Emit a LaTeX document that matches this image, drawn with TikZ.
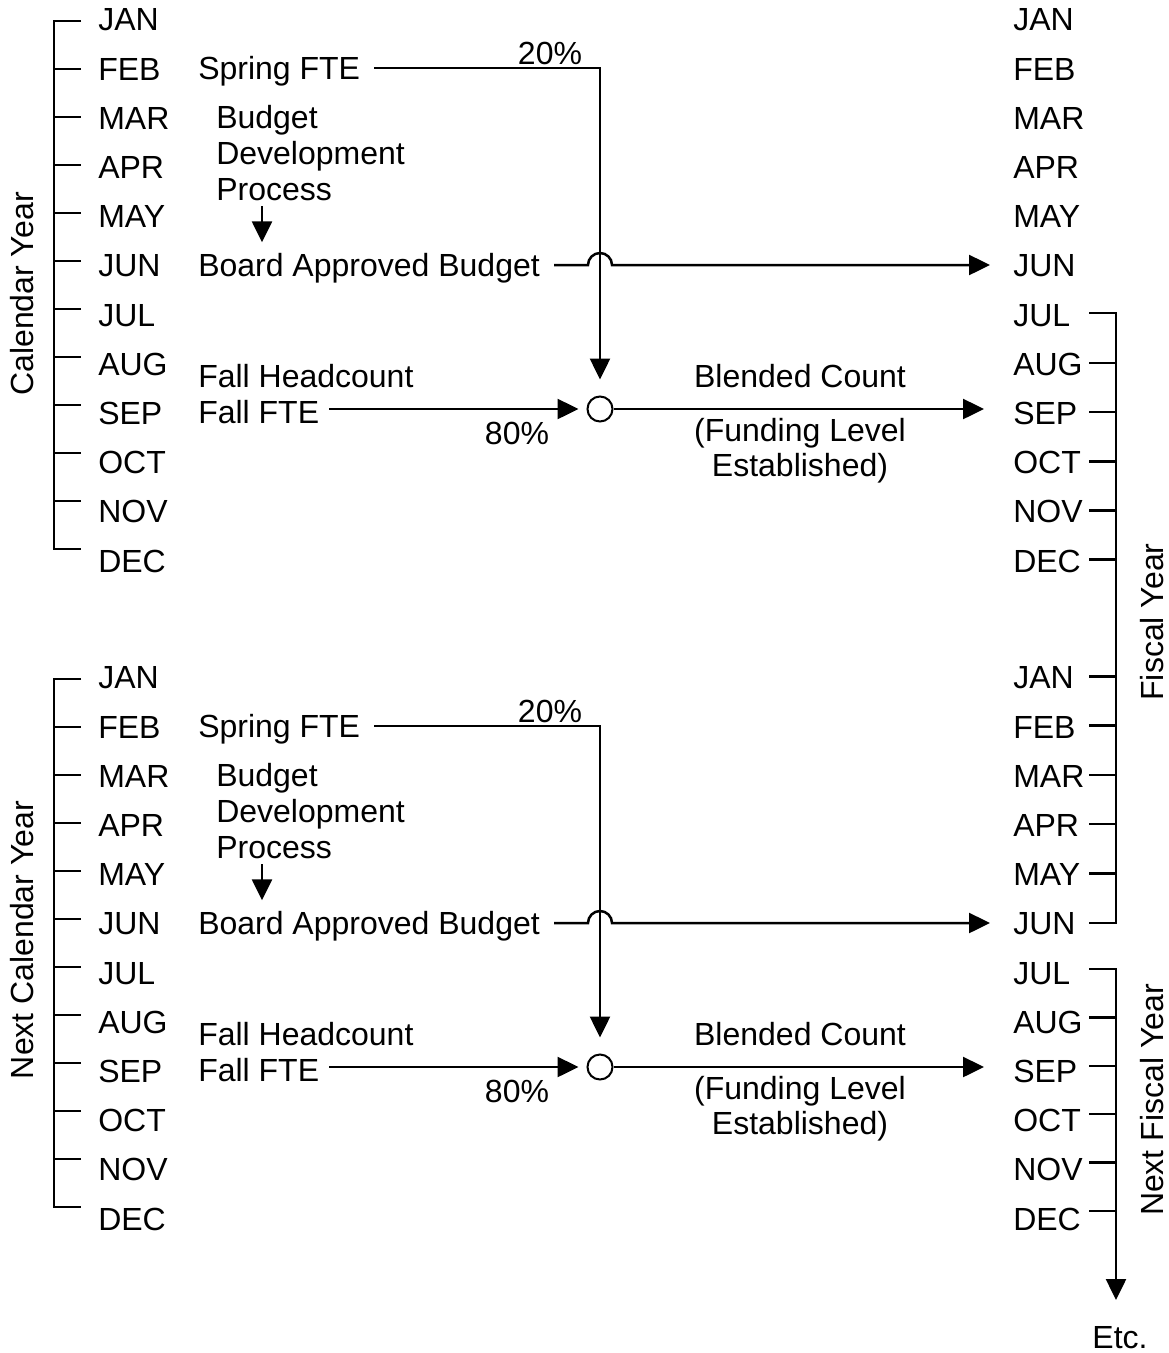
\documentclass[tikz,border=0pt]{standalone}
\usepackage{fontspec}
\setmainfont{Liberation Sans}
\usetikzlibrary{arrows.meta}
\begin{document}
\begin{tikzpicture}[x=1pt,y=-1pt, line width=2.5pt,
  txt/.style={font=\fontsize{32}{38}\selectfont, inner sep=0pt, text height=22.9pt, text depth=0pt},
  lt/.style={txt, anchor=west},
  arr/.style={-{Triangle[length=21pt,width=20pt]}},
  circnode/.style={draw, circle, minimum size=25pt, inner sep=0pt, line width=2pt}]
\useasboundingbox (0,0) rectangle (1169,1353);

% month labels
\foreach \s/\o in {1/0, 2/658} {
  \foreach \m [count=\i from 0] in {JAN,FEB,MAR,APR,MAY,JUN,JUL,AUG,SEP,OCT,NOV,DEC} {
    \node[lt] (L\s\m) at (97, {19.5+49.2*\i+\o}) {\m};
    \node[lt] (R\s\m) at (1012, {19.5+49.2*\i+\o}) {\m};
  }
}

% left calendar brackets
\foreach \o in {0, 658} {
  \draw (81,21+\o) -- (54,21+\o) -- (54,549+\o) -- (81,549+\o);
  \foreach \k in {1,...,10} \draw (54,{21+48*\k+\o}) -- (81,{21+48*\k+\o});
}

% fiscal year bracket
\draw (1089,313) -- (1116,313) -- (1116,923) -- (1089,923);
\foreach \k in {7,...,11} \draw (1089,{18.5+49.2*\k}) -- (1116,{18.5+49.2*\k});
\foreach \k in {0,...,4} \draw (1089,{18.5+49.2*\k+658}) -- (1116,{18.5+49.2*\k+658});

% next fiscal year
\draw[arr] (1089,969) -- (1116,969) -- (1116,1300);
\foreach \k in {1,...,5} \draw (1089,{969+48.4*\k}) -- (1116,{969+48.4*\k});
\node[txt] (etc) at (1120,1337) {Etc.};

% side titles
\node[txt, rotate=90] (cy) at (22,294) {Calendar Year};
\node[txt, rotate=90] (ncy) at (22,940) {Next Calendar Year};
\node[txt, rotate=90] (fy) at (1152,622) {Fiscal Year};
\node[txt, rotate=90] (nfy) at (1152,1100) {Next Fiscal Year};

% the two process blocks
\foreach \s/\o in {1/0, 2/658} {
  \node[lt] (spring\s) at (197,68+\o) {Spring FTE};
  \node[lt] (bud\s) at (215,117+\o) {Budget};
  \node[lt] (dev\s) at (215,153+\o) {Development};
  \node[lt] (proc\s) at (215,189+\o) {Process};
  \node[lt] (board\s) at (197,265+\o) {Board Approved Budget};
  \node[lt] (fallhc\s) at (197,376+\o) {Fall Headcount};
  \node[lt] (fall\s) at (197,412+\o) {Fall FTE};
  \node[circnode] (circ\s) at (600,409+\o) {};
  \node[txt] (p20\s) at (550,53+\o) {20\%};
  \node[txt] (p80\s) at (517,433+\o) {80\%};
  \node[txt] (blend\s) at (800,376+\o) {Blended Count};
  \node[txt] (fund\s) at (800,430+\o) {(Funding Level};
  \node[txt] (est\s) at (800,465+\o) {Established)};
  \coordinate (x\s) at (600,265+\o);
  \coordinate (pa\s) at (262,206+\o);
  \coordinate (fe\s) at ([xshift=9pt]fall\s.east);
  \coordinate (se\s) at ([xshift=-28pt]R\s SEP.west);
  \coordinate (je\s) at ([xshift=-22pt]R\s JUN.west);
  \coordinate (bs\s) at ([xshift=13pt]board\s.east);

  \draw[arr, shorten >=16pt] ([xshift=13pt]spring\s.east) -| (circ\s.north);
  \draw[arr] (bs\s |- x\s) -- ([xshift=-12pt]x\s)
     arc[start angle=180, end angle=0, radius=12pt] -- (je\s |- x\s);
  \draw[arr, shorten >=8pt] (fe\s |- circ\s.west) -- (circ\s.west);
  \draw[arr] (circ\s.east) -- (se\s |- circ\s.east);
  \draw[arr, shorten >=10pt] (pa\s) -- (pa\s |- board\s.north);
}
\end{tikzpicture}
\end{document}
